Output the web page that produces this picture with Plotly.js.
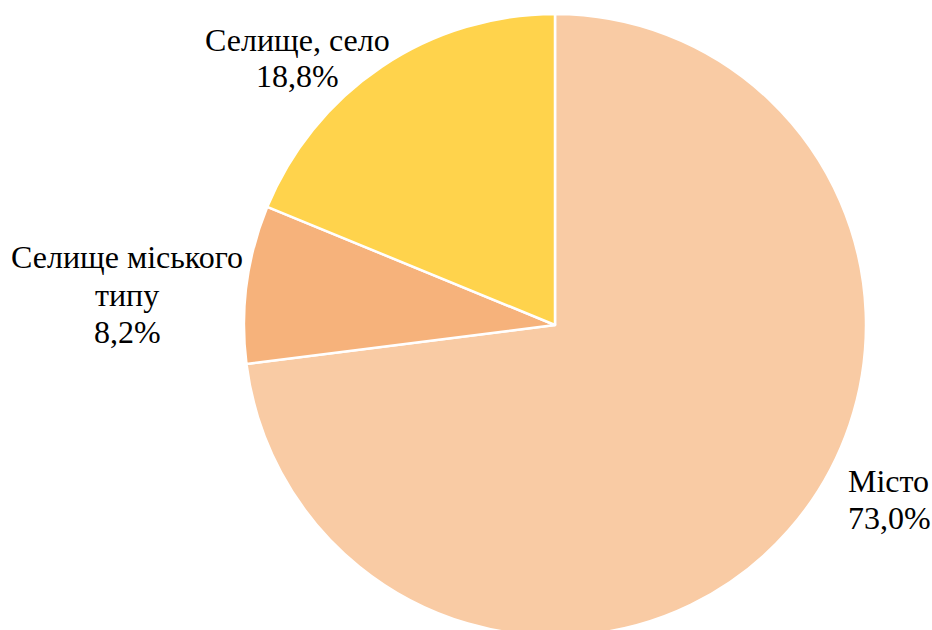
<!DOCTYPE html>
<html>
<head>
<meta charset="utf-8">
<script src="https://cdn.plot.ly/plotly-3.0.1.min.js"></script>
<style>html,body{margin:0;padding:0;overflow:hidden;background:#fff;}</style>
</head>
<body>
<div id="chart"></div>
<script>
// Data
var categories = ['Місто', 'Селище міського типу', 'Селище, село'];
var displayLabels = ['Місто', 'Селище міського<br>типу', 'Селище, село'];
var shares = [73.0, 8.2, 18.8];
var colors = ['#F9CBA4', '#F6B27B', '#FFD34C'];

var W = 932, H = 650;
// label placement (styling): x in px, first line centre y in px, anchor
var labelPos = [
  {x: 846, y: 480.5, anchor: 'left'},
  {x: 127, y: 257.5, anchor: 'center'},
  {x: 297.5, y: 39.5, anchor: 'center'}
];
var lineStep = 37;
var FONT = 'Liberation Serif';

function fmt(v) { return v.toFixed(1).replace('.', ',') + '%'; }

var annotations = [];
categories.forEach(function (c, i) {
  var lines = displayLabels[i].split('<br>').concat([fmt(shares[i])]);
  lines.forEach(function (ln, k) {
    annotations.push({
      xref: 'paper', yref: 'paper',
      x: labelPos[i].x / W, y: 1 - (labelPos[i].y + k * lineStep) / H,
      xanchor: labelPos[i].anchor, yanchor: 'middle',
      text: ln, showarrow: false,
      font: {family: FONT, size: 32, color: '#000000'}
    });
  });
});

var trace = {
  type: 'pie',
  labels: categories,
  values: shares,
  sort: false,
  direction: 'clockwise',
  rotation: 0,
  textinfo: 'none',
  marker: {colors: colors, line: {color: '#ffffff', width: 2.5}},
  domain: {x: [0.2, 1.19099 - 0.2], y: [1 - 636 / H, 1 - 14 / H]},
  showlegend: false
};

Plotly.newPlot('chart', [trace], {
  width: W, height: H,
  margin: {l: 0, r: 0, t: 0, b: 0},
  paper_bgcolor: '#ffffff',
  font: {family: FONT, size: 32, color: '#000000'},
  showlegend: false,
  annotations: annotations
}, {displayModeBar: false});
</script>
</body>
</html>
